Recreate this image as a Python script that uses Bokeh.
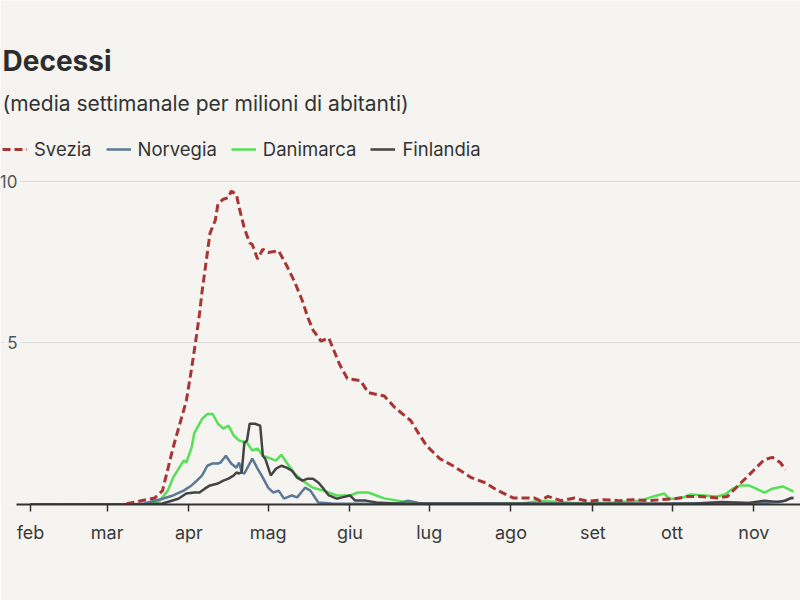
import pandas as pd
from datetime import datetime
from bokeh.plotting import figure
from bokeh.models import (Range1d, FixedTicker, Legend, LegendItem, Label)
from bokeh.embed import file_html
from bokeh.resources import INLINE

# ---- data (weekly-average deaths per million inhabitants, 2020) ----
svezia_dates = ["2020-02-01", "2020-03-07", "2020-03-13", "2020-03-19", "2020-03-22", "2020-03-26",
                "2020-03-31", "2020-04-02", "2020-04-04", "2020-04-05", "2020-04-06", "2020-04-07",
                "2020-04-08", "2020-04-09", "2020-04-11", "2020-04-12", "2020-04-14", "2020-04-16",
                "2020-04-17", "2020-04-19", "2020-04-20", "2020-04-22", "2020-04-24", "2020-04-25",
                "2020-04-27", "2020-04-29", "2020-05-01", "2020-05-05", "2020-05-08", "2020-05-11",
                "2020-05-14", "2020-05-16", "2020-05-18", "2020-05-21", "2020-05-24", "2020-05-26",
                "2020-05-28", "2020-05-31", "2020-06-05", "2020-06-08", "2020-06-14", "2020-06-18",
                "2020-06-24", "2020-06-27", "2020-06-30", "2020-07-05", "2020-07-10", "2020-07-17",
                "2020-07-22", "2020-07-27", "2020-08-02", "2020-08-10", "2020-08-12", "2020-08-15",
                "2020-08-20", "2020-08-25", "2020-08-30", "2020-09-05", "2020-09-11", "2020-09-16",
                "2020-09-22", "2020-10-02", "2020-10-07", "2020-10-12", "2020-10-18", "2020-10-22",
                "2020-10-26", "2020-10-30", "2020-11-02", "2020-11-05", "2020-11-08", "2020-11-11",
                "2020-11-13"]
svezia_vals = [0, 0, 0.1, 0.2, 0.43, 1.76,
               3.2, 4.2, 5.3, 5.9, 6.6, 7.2,
               7.8, 8.4, 8.8, 9.3, 9.45, 9.5,
               9.7, 9.6, 9.2, 8.55, 8.1, 8.05,
               7.6, 7.9, 7.8, 7.85, 7.4, 6.9,
               6.3, 5.8, 5.4, 5.06, 5.15, 4.75,
               4.35, 3.9, 3.83, 3.46, 3.36, 3.0,
               2.6, 2.2, 1.82, 1.42, 1.2, 0.83,
               0.68, 0.43, 0.2, 0.2, 0.12, 0.25,
               0.12, 0.2, 0.1, 0.15, 0.12, 0.15,
               0.12, 0.18, 0.25, 0.25, 0.2, 0.25,
               0.58, 0.9, 1.15, 1.39, 1.46, 1.3,
               1.08]

norvegia_dates = ["2020-02-01", "2020-03-10", "2020-03-15", "2020-03-22", "2020-03-26", "2020-03-30",
                  "2020-04-02", "2020-04-04", "2020-04-06", "2020-04-08", "2020-04-10", "2020-04-12",
                  "2020-04-13", "2020-04-15", "2020-04-17", "2020-04-19", "2020-04-20", "2020-04-21",
                  "2020-04-22", "2020-04-25", "2020-04-27", "2020-04-29", "2020-05-01", "2020-05-03",
                  "2020-05-05", "2020-05-07", "2020-05-10", "2020-05-12", "2020-05-15", "2020-05-17",
                  "2020-05-20", "2020-05-25", "2020-06-15", "2020-06-20", "2020-06-23", "2020-06-27",
                  "2020-08-10", "2020-09-01", "2020-10-01", "2020-10-20", "2020-11-05", "2020-11-12",
                  "2020-11-15", "2020-11-16"]
norvegia_vals = [0, 0, 0.03, 0.18, 0.28, 0.43,
                 0.59, 0.74, 0.9, 1.2, 1.27, 1.27,
                 1.3, 1.51, 1.27, 1.14, 1.3, 0.99,
                 0.96, 1.42, 1.11, 0.83, 0.52, 0.37,
                 0.43, 0.18, 0.28, 0.22, 0.52, 0.43,
                 0.06, 0.03, 0.02, 0.05, 0.12, 0.05,
                 0.03, 0.02, 0.03, 0.05, 0.05, 0.1,
                 0.2, 0.2]

danimarca_dates = ["2020-02-01", "2020-03-14", "2020-03-19", "2020-03-21", "2020-03-24", "2020-03-26",
                   "2020-03-30", "2020-03-31", "2020-04-02", "2020-04-03", "2020-04-06", "2020-04-08",
                   "2020-04-10", "2020-04-12", "2020-04-14", "2020-04-16", "2020-04-18", "2020-04-20",
                   "2020-04-23", "2020-04-25", "2020-04-27", "2020-04-29", "2020-05-02", "2020-05-04",
                   "2020-05-06", "2020-05-08", "2020-05-11", "2020-05-14", "2020-05-18", "2020-05-22",
                   "2020-05-27", "2020-06-01", "2020-06-04", "2020-06-08", "2020-06-11", "2020-06-14",
                   "2020-06-19", "2020-06-24", "2020-07-15", "2020-08-05", "2020-08-12", "2020-08-25",
                   "2020-09-06", "2020-09-19", "2020-09-24", "2020-09-28", "2020-09-30", "2020-10-04",
                   "2020-10-08", "2020-10-13", "2020-10-18", "2020-10-21", "2020-10-24", "2020-10-27",
                   "2020-10-30", "2020-11-01", "2020-11-05", "2020-11-08", "2020-11-12", "2020-11-16"]
danimarca_vals = [0, 0, 0.05, 0.12, 0.43, 0.83,
                  1.36, 1.3, 1.76, 2.2, 2.65, 2.8,
                  2.8, 2.5, 2.35, 2.44, 2.13, 1.98,
                  1.91, 1.67, 1.73, 1.51, 1.42, 1.36,
                  1.54, 1.3, 0.96, 0.74, 0.52, 0.43,
                  0.28, 0.28, 0.37, 0.37, 0.28, 0.19,
                  0.12, 0.05, 0.03, 0.03, 0.12, 0.05,
                  0.05, 0.12, 0.25, 0.34, 0.18, 0.18,
                  0.31, 0.28, 0.25, 0.31, 0.49, 0.59,
                  0.59, 0.52, 0.37, 0.49, 0.56, 0.4]

finlandia_dates = ["2020-02-01", "2020-03-15", "2020-03-22", "2020-03-28", "2020-03-31", "2020-04-03",
                   "2020-04-05", "2020-04-07", "2020-04-09", "2020-04-12", "2020-04-14", "2020-04-16",
                   "2020-04-18", "2020-04-19", "2020-04-20", "2020-04-21", "2020-04-22", "2020-04-23",
                   "2020-04-24", "2020-04-26", "2020-04-28", "2020-04-29", "2020-04-30", "2020-05-02",
                   "2020-05-04", "2020-05-06", "2020-05-08", "2020-05-10", "2020-05-12", "2020-05-14",
                   "2020-05-16", "2020-05-18", "2020-05-20", "2020-05-22", "2020-05-24", "2020-05-27",
                   "2020-05-29", "2020-06-01", "2020-06-03", "2020-06-07", "2020-06-11", "2020-06-20",
                   "2020-10-10", "2020-10-20", "2020-10-30", "2020-11-05", "2020-11-10", "2020-11-13",
                   "2020-11-15", "2020-11-16"]
finlandia_vals = [0, 0, 0.03, 0.18, 0.34, 0.37,
                  0.37, 0.49, 0.59, 0.65, 0.74, 0.8,
                  0.9, 0.99, 0.96, 1.0, 1.91, 1.98,
                  2.5, 2.5, 2.44, 1.51, 1.4, 0.9,
                  1.11, 1.2, 1.14, 1.05, 0.83, 0.74,
                  0.8, 0.8, 0.68, 0.49, 0.28, 0.18,
                  0.22, 0.28, 0.12, 0.12, 0.06, 0.02,
                  0.03, 0.08, 0.05, 0.12, 0.08, 0.12,
                  0.2, 0.2]

month_starts = ["2020-02-01", "2020-03-01", "2020-04-01", "2020-05-01", "2020-06-01", "2020-07-01",
                "2020-08-01", "2020-09-01", "2020-10-01", "2020-11-01"]
month_labels = ["feb", "mar", "apr", "mag", "giu", "lug", "ago", "set", "ott", "nov"]
y_ticks = [5, 10]
y_tick_labels = ["5", "10"]

title_text = "Decessi"
subtitle_text = "(media settimanale per milioni di abitanti)"

# ---- styling ----
BG = "#f5f4f0"
FONT = "Inter"
colors = {"Svezia": "#a83434", "Norvegia": "#5b7895", "Danimarca": "#55e055", "Finlandia": "#444444"}

# the frame spans the whole upper part of the canvas; header texts live inside it
p = figure(width=800, height=600, x_axis_type="datetime", y_axis_location=None,
           output_backend="svg", toolbar_location=None,
           x_range=Range1d(datetime(2020, 1, 20, 15), datetime(2020, 11, 18, 16)),
           y_range=Range1d(0, 15.6),
           min_border_left=0, min_border_right=0, min_border_top=0, min_border_bottom=96,
           background_fill_color=BG, border_fill_color=BG)
p.outline_line_color = None
p.xgrid.visible = False
p.ygrid.ticker = FixedTicker(ticks=y_ticks)
p.ygrid.grid_line_color = "#dcdcdc"
p.ygrid.grid_line_width = 1

r_dan = p.line(pd.to_datetime(danimarca_dates), danimarca_vals, line_color=colors["Danimarca"], line_width=2.5)
r_nor = p.line(pd.to_datetime(norvegia_dates), norvegia_vals, line_color=colors["Norvegia"], line_width=2.5)
r_fin = p.line(pd.to_datetime(finlandia_dates), finlandia_vals, line_color=colors["Finlandia"], line_width=2.5)
r_sve = p.line(pd.to_datetime(svezia_dates), svezia_vals, line_color=colors["Svezia"], line_width=3,
               line_dash="8 4")

# x axis (baseline starts a little left of February)
ax = p.xaxis[0]
tick_ms = [pd.Timestamp(s).value // 10**6 for s in month_starts]
ax.ticker = FixedTicker(ticks=tick_ms)
ax.major_label_overrides = {t: l for t, l in zip(tick_ms, month_labels)}
ax.bounds = (datetime(2020, 1, 26, 17), datetime(2020, 11, 18, 16))
ax.axis_line_color = "#333333"
ax.axis_line_width = 2
ax.major_tick_line_color = "#333333"
ax.major_tick_line_width = 1.5
ax.major_tick_out = 7
ax.major_tick_in = 0
ax.minor_tick_line_color = None
ax.major_label_standoff = 10
ax.major_label_text_font = FONT
ax.major_label_text_font_size = "18px"
ax.major_label_text_color = "#3a3a3a"

# y tick labels at the left edge, masking the start of their gridline
for v, lab in zip(y_ticks, y_tick_labels):
    p.add_layout(Label(x=20, y=v, x_units="screen", y_units="data", text=lab,
                       text_align="right", text_baseline="middle", text_font=FONT,
                       text_font_size="17px", text_color="#555555",
                       background_fill_color=BG, padding=3))

# title and subtitle
p.add_layout(Label(x=2, y=13.73, x_units="screen", y_units="data", text=title_text,
                   text_align="left", text_baseline="alphabetic", text_font=FONT,
                   text_font_style="bold", text_font_size="28px", text_color="#2d2d2d"))
p.add_layout(Label(x=2, y=12.41, x_units="screen", y_units="data", text=subtitle_text,
                   text_align="left", text_baseline="alphabetic", text_font=FONT,
                   text_font_size="21px", text_color="#333333"))

legend = Legend(items=[LegendItem(label="Svezia", renderers=[r_sve]),
                       LegendItem(label="Norvegia", renderers=[r_nor]),
                       LegendItem(label="Danimarca", renderers=[r_dan]),
                       LegendItem(label="Finlandia", renderers=[r_fin])],
                orientation="horizontal", location=(2, 344),
                padding=0, margin=0, spacing=14, label_standoff=7,
                glyph_width=25, glyph_height=20, label_height=20,
                label_text_font=FONT, label_text_font_size="18.5px", label_text_color="#333333",
                border_line_color=None, background_fill_alpha=0)
p.add_layout(legend, "center")

open("out.html", "w").write(file_html(p, INLINE))
